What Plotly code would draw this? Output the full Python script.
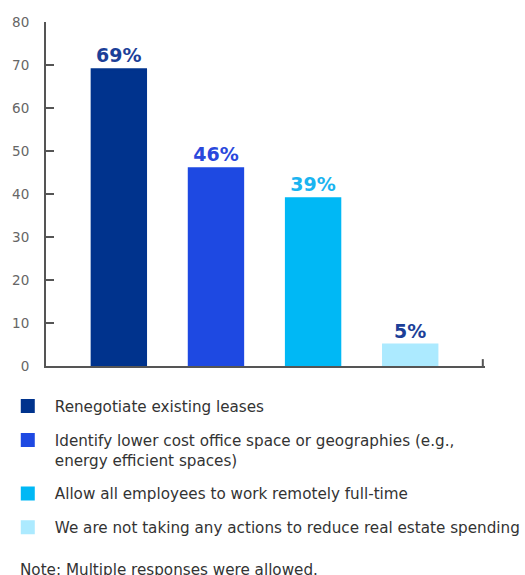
import plotly.graph_objects as go

categories = [
    "Renegotiate existing leases",
    "Identify lower cost office space or geographies (e.g.,<br>energy efficient spaces)",
    "Allow all employees to work remotely full-time",
    "We are not taking any actions to reduce real estate spending",
]
values = [69, 46, 39, 5]
bar_colors = ["#00338D", "#1E49E2", "#00B8F5", "#ACEAFF"]
label_colors = ["#1C3F98", "#2A48DC", "#1AB4F0", "#1C3F98"]
y_ticks = [0, 10, 20, 30, 40, 50, 60, 70, 80]

FONT = "DejaVu Sans"

fig = go.Figure()
for i, (cat, v, bc, lc) in enumerate(zip(categories, values, bar_colors, label_colors)):
    fig.add_trace(go.Bar(
        x=[i], y=[v], name=cat, width=0.56,
        marker=dict(color=bc, line=dict(width=2, color=bc)),
        text=[f"{v}%"], textposition="outside",
        outsidetextfont=dict(family=FONT, size=19, color=lc, weight="bold"),
        cliponaxis=False,
        legendgroup=f"g{i}",
        hoverinfo="skip",
    ))

fig.add_shape(type="line", xref="x domain", yref="paper",
              x0=0.995, x1=0.995, y0=0, y1=0.02,
              line=dict(color="#555555", width=2))

fig.update_layout(
    width=525, height=575,
    margin=dict(l=46, r=40, t=22, b=209, autoexpand=False),
    paper_bgcolor="white", plot_bgcolor="white",
    barmode="overlay",
    showlegend=True,
    legend=dict(
        x=-0.103, y=-0.069, xanchor="left", yanchor="top",
        orientation="v", valign="top",
        font=dict(family=FONT, size=15.2, color="#333333"),
        tracegroupgap=11, itemwidth=44,
        bgcolor="rgba(0,0,0,0)",
    ),
    xaxis=dict(
        range=[-0.75, 3.77], showticklabels=False, ticks="",
        showline=True, linecolor="#555555", linewidth=2,
        showgrid=False, zeroline=False, fixedrange=True,
    ),
    yaxis=dict(
        range=[0, 80], tickvals=y_ticks,
        ticks="inside", ticklen=8, tickwidth=2, tickcolor="#555555",
        showline=True, linecolor="#555555", linewidth=2,
        showgrid=False, zeroline=False,
        tickfont=dict(family=FONT, size=13.5, color="#666666"),
        ticklabelstandoff=12,
    ),
    annotations=[dict(
        text="Note: Multiple responses were allowed.",
        xref="paper", yref="paper", x=(18 - 46) / 439, y=-0.593,
        xanchor="left", yanchor="middle", showarrow=False,
        font=dict(family=FONT, size=15.2, color="#333333"),
    )],
)

fig.write_html("out.html")
